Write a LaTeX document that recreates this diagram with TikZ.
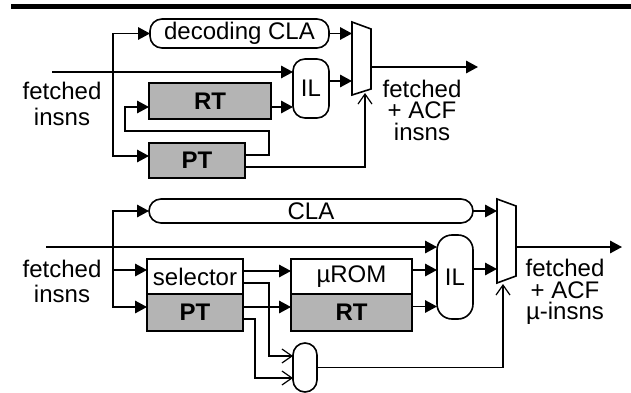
\documentclass[tikz,border=0pt]{standalone}
\usepackage{fontspec}
\setmainfont{Liberation Sans}
\usetikzlibrary{arrows.meta,calc}
\definecolor{boxgray}{RGB}{180,180,180}
\begin{document}
\begin{tikzpicture}[x=1pt,y=-1pt,line width=1.6pt,
  every node/.style={inner sep=0pt,outer sep=0pt,font=\fontsize{24}{21.5}\selectfont},
  box/.style={draw,rectangle,line width=1.6pt},
  gbox/.style={box,fill=boxgray,font=\fontsize{24}{21.5}\selectfont\bfseries},
  rbox/.style={draw,rounded corners=12pt,line width=1.6pt},
  lbl/.style={align=center},
  fa/.style={-{Triangle[length=12pt,width=12.5pt]}},
  oa/.style={-{Straight Barb[length=10pt,width=14pt,line width=1.2pt]}}]
\useasboundingbox (0,0) rectangle (631,393);
\fill (11,4) rectangle (631,9.5);

% ---------------- top diagram ----------------
\node[rbox,minimum width=179pt,minimum height=29pt] (cla1) at (239.5,33.5) {decoding CLA};
\node[rbox,minimum width=36pt,minimum height=59pt] (il1) at (311,88.5) {IL};
\node[gbox,minimum width=122pt,minimum height=36pt] (rt1) at (210,101) {RT};
\node[gbox,minimum width=96pt,minimum height=35pt] (pt1) at (197,160.5) {PT};
\node[lbl,font=\fontsize{24}{26}\selectfont] (in1) at (62,104) {fetched\\insns};
\node[lbl] (out1) at (422,110) {fetched\\+ ACF\\insns};
\coordinate (m1a) at (352,22);
\coordinate (m1b) at (371,29);
\coordinate (m1c) at (371,89);
\coordinate (m1d) at (352,95);
\draw (m1a) -- (m1b) -- (m1c) -- (m1d) -- cycle;
\coordinate (m1bot) at (365,93);
\coordinate (m1in2) at (352,81);
\coordinate (m1out) at (371,67);
\coordinate (o1) at (478,67);
\coordinate (src1) at (52,72);
\coordinate (br1) at (113,72);

\draw[fa] (src1) -- (src1 -| il1.west);
\draw[fa] (br1) |- (cla1.west);
\draw[fa] (br1) |- ([yshift=4.5pt]pt1.west);
\coordinate (rt1o) at ([yshift=-6pt]rt1.east);
\draw[fa] (rt1o) -- (rt1o -| il1.west);
\coordinate (pt1o) at ([yshift=5.5pt]pt1.east);
\coordinate (rt1i) at ([yshift=-6pt]rt1.west);
\draw[fa] (pt1o) -- ++(24,0) |- ($(rt1i)+(-24,24)$) |- (rt1i);
\coordinate (pt1o2) at ([yshift=-6.5pt]pt1.east);
\draw[oa] (pt1o2) -| (m1bot);
\draw[fa] (cla1.east) -- (cla1.east -| m1a);
\draw[fa] (il1.east |- m1in2) -- (m1in2);
\draw[fa] (m1out) -- (o1);

% ---------------- bottom diagram ----------------
\node[rbox,minimum width=324pt,minimum height=24pt] (cla2) at (311,211) {CLA};
\node[rbox,rounded corners=15pt,minimum width=36pt,minimum height=84pt] (il2) at (455,277) {IL};
\node[box,minimum width=96pt,minimum height=35pt] (sel) at (195,276.5) {selector};
\node[gbox,minimum width=96pt,minimum height=37pt] (pt2) at (195,312.5) {PT};
\node[box,minimum width=121pt,minimum height=35pt] (urom) at (351.5,276.5) {µROM};
\node[gbox,minimum width=121pt,minimum height=37pt] (rt2) at (351.5,312.5) {RT};
\node[rbox,minimum width=24pt,minimum height=49pt] (oval) at (305,367.5) {};
\node[lbl,font=\fontsize{24}{25}\selectfont] (in2) at (62,281) {fetched\\insns};
\node[lbl] (out2) at (565,292) {fetched\\+ ACF\\µ-insns};
\coordinate (m2a) at (497,199);
\coordinate (m2b) at (516,206);
\coordinate (m2c) at (516,276);
\coordinate (m2d) at (497,283);
\draw (m2a) -- (m2b) -- (m2c) -- (m2d) -- cycle;
\coordinate (m2bot) at (503,284);
\coordinate (m2in2) at (497,269);
\coordinate (m2out) at (516,247);
\coordinate (o2) at (622,247);
\coordinate (src2) at (46,247);
\coordinate (br2) at (113,247);

\draw[fa] (src2) -- (src2 -| il2.west);
\draw[fa] (br2) |- (cla2.west);
\draw[fa] (br2) |- ([yshift=6.5pt]sel.west);
\draw[fa] (br2) |- ([yshift=5.5pt]pt2.west);
\coordinate (selo) at ([yshift=5.5pt]sel.east);
\draw[fa] (selo) -- (selo -| urom.west);
\coordinate (pt2o) at ([yshift=5.5pt]pt2.east);
\draw[fa] (pt2o) -- (pt2o -| rt2.west);
\coordinate (uromo) at ([yshift=6.5pt]urom.east);
\draw[fa] (uromo) -- (uromo -| il2.west);
\coordinate (rt2o) at ([yshift=6pt]rt2.east);
\draw[fa] (rt2o) -- (rt2o -| il2.west);
\draw[fa] (il2.east |- m2in2) -- (m2in2);
\draw[fa] (cla2.east) -- (cla2.east -| m2a);
\draw[fa] (m2out) -- (o2);
\coordinate (selo2) at ([yshift=-6.5pt]sel.east);
\coordinate (ovi1) at ([yshift=11.5pt]oval.west);
\draw[oa] (selo2) -- ++(26,0) |- (ovi1);
\coordinate (pt2o2) at ([yshift=-6.5pt]pt2.east);
\coordinate (ovi2) at ([yshift=-10.5pt]oval.west);
\draw[oa] (pt2o2) -- ++(12,0) |- (ovi2);
\draw[oa] (oval.east) -| (m2bot);
\end{tikzpicture}
\end{document}
